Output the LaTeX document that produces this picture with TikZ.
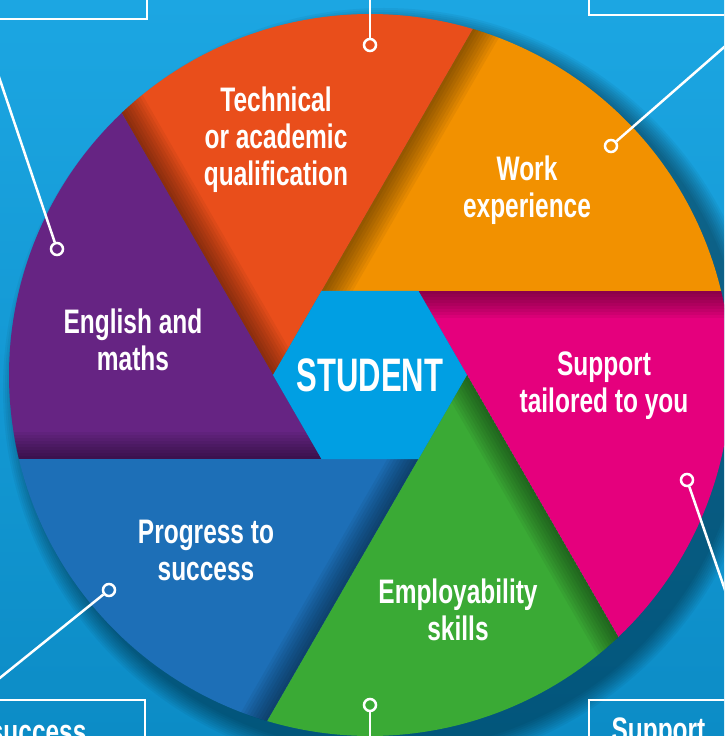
\documentclass[tikz,border=0pt]{standalone}
\usepackage{fontspec}
\setmainfont{Liberation Sans}[FakeStretch=0.72]
\newfontfamily\hexfont{Liberation Sans}[FakeStretch=0.66]
\usetikzlibrary{positioning}
\definecolor{bgTop}{HTML}{1CA6E2}
\definecolor{bgBot}{HTML}{0C8CC6}
\definecolor{pinkC}{HTML}{E5007D}
\definecolor{orangeC}{HTML}{F29100}
\definecolor{redC}{HTML}{E94E1B}
\definecolor{purpleC}{HTML}{662483}
\definecolor{blueC}{HTML}{1D6FB7}
\definecolor{greenC}{HTML}{3AAA35}
\definecolor{hexC}{HTML}{009FE3}

\begin{document}
\begin{tikzpicture}[
			x=1pt, y=1pt,
			label/.style={text=white, font=\bfseries\fontsize{34}{37}\selectfont, align=center},
			dot/.style={circle, draw=white, line width=2.5pt, minimum size=12pt, inner sep=0pt},
			link/.style={draw=white, line width=2.5pt},
			frame/.style={draw=white, line width=2.5pt}
			]
			\useasboundingbox (-370,-361) rectangle (354,375);
			\clip (-370,-361) rectangle (354,375);
			
			% Background
			\shade[top color=bgTop, bottom color=bgBot] (-370,-361) rectangle (354,375);
			\foreach \r in {2,4,...,20}
				\fill[black, opacity=0.045] (14,-14) circle (361+\r);
			
			% Wheel segments
			\foreach \k/\col in {0/pinkC,1/orangeC,2/redC,3/purpleC,4/blueC,5/greenC}{
				\begin{scope}[rotate=60*\k]
					\fill[\col] (0:97) -- (-46.54:361) arc[start angle=-46.54, end angle=13.46, radius=361] -- (60:97) -- cycle;
					\clip (0:97) -- (-46.54:361) arc[start angle=-46.54, end angle=13.46, radius=361] -- (60:97) -- cycle;
					\foreach \w in {3,6,...,27}
						\fill[black, opacity=0.05] (60:97) -- ++(400,0) -- ++(0,-\w) -- ++(-400,0) -- cycle;
				\end{scope}
			}
			
			% Centre
			\fill[hexC] (0:97) -- (60:97) -- (120:97) -- (180:97) -- (240:97) -- (300:97) -- cycle;
			\node[text=white, font=\hexfont\bfseries\fontsize{47}{47}\selectfont] (student) at (0,0) {STUDENT};
			
			% Labels
			\node[label] (lblRed) at (-94,235) {Technical\\or academic\\qualification};
			\node[label] (lblOrange) at (157,185) {Work\\experience};
			\node[label] (lblPurple) at (-237,35) {English and\\maths};
			\node[label] (lblPink) at (234,-11) {Support\\tailored to you};
			\node[label] (lblGreen) at (88,-235) {Employability\\skills};
			\node[label] (lblBlue) at (-164,-175) {Progress to\\success};
			
			% Boxes
			\node[frame, minimum width=177pt, minimum height=64pt] (boxTL) at (-311.5,388) {};
			\node[frame, minimum width=181pt, minimum height=64pt] (boxTR) at (309.5,392) {};
			\node[frame, minimum width=175pt, minimum height=95pt] (boxBL) at (-312.5,-372.5) {};
			\node[frame, minimum width=181pt, minimum height=95pt] (boxBR) at (309.5,-372.5) {};
			\node[label, anchor=base east] (txtBL) at (-280,-368) {success};
			\node[label, anchor=base west] (txtBR) at (238,-366) {Support};
			
			% Dots
			\node[dot] (dotRed) at (0,330) {};
			\node[dot] (dotOrange) at (241,229) {};
			\node[dot] (dotPurple) at (-313,126) {};
			\node[dot] (dotPink) at (317,-105) {};
			\node[dot] (dotGreen) at (0,-330) {};
			\node[dot] (dotBlue) at (-261,-215) {};
			\coordinate (endRed) at (0,400);
			\coordinate (endOrange) at (400,368);
			\coordinate (endPurple) at (-400,384);
			\coordinate (endPink) at (419,-400);
			\coordinate (endGreen) at (0,-400);
			\coordinate (endBlue) at (-400,-327);
			
			% Connectors
			\draw[link] (dotRed) -- (endRed);
			\draw[link] (dotOrange) -- (endOrange);
			\draw[link] (dotPurple) -- (endPurple);
			\draw[link] (dotPink) -- (endPink);
			\draw[link] (dotGreen) -- (endGreen);
			\draw[link] (dotBlue) -- (endBlue);
		\end{tikzpicture}
\end{document}
